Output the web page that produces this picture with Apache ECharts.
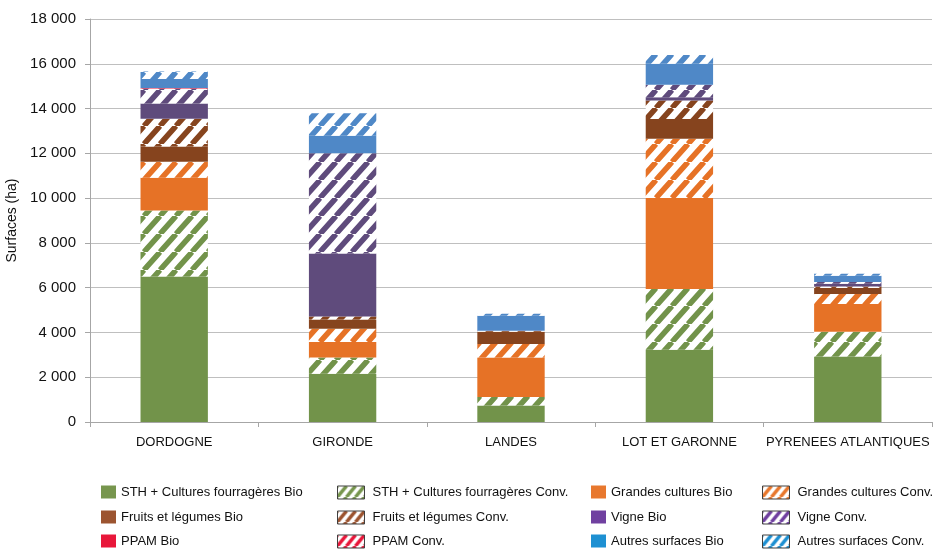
<!DOCTYPE html>
<html>
<head>
<meta charset="utf-8">
<script src="https://cdn.jsdelivr.net/npm/echarts@6/dist/echarts.min.js"></script>
<style>
html,body{margin:0;padding:0;background:#fff;}
#chart{width:934px;height:550px;}
</style>
</head>
<body>
<div id="chart"></div>
<script>
// ---- DATA ----
const categories = ['DORDOGNE', 'GIRONDE', 'LANDES', 'LOT ET GARONNE', 'PYRENEES ATLANTIQUES'];
const sthBio      = [6500, 2155, 740, 3230, 2930];
const sthConv     = [2950, 730, 375, 2710, 1100];
const gcBio       = [1460, 685, 1770, 4060, 1240];
const gcConv      = [715, 595, 600, 2650, 445];
const flBio       = [685, 415, 550, 880, 270];
const flConv      = [1235, 135, 30, 830, 70];
const vigneBio    = [685, 2810, 0, 150, 120];
const vigneConv   = [670, 4480, 0, 550, 75];
const ppamBio     = [15, 0, 0, 0, 0];
const ppamConv    = [0, 0, 15, 0, 0];
const autresBio   = [410, 775, 670, 940, 280];
const autresConv  = [330, 1015, 80, 390, 90];
const yTicks = { min: 0, max: 18000, interval: 2000 };

// ---- STYLE ----
const FONT = 'Liberation Sans';
function hatch(color, w, h, lw) {
  const c = document.createElement('canvas');
  c.width = w; c.height = h;
  const g = c.getContext('2d');
  g.fillStyle = '#ffffff';
  g.fillRect(0, 0, w, h);
  g.strokeStyle = color;
  g.lineWidth = lw;
  g.beginPath();
  for (let k = -1; k <= 1; k++) {
    g.moveTo(k * w, h);
    g.lineTo(k * w + w, 0);
  }
  g.stroke();
  return { image: c, repeat: 'repeat' };
}

const seriesDefs = [
  { name: 'STH + Cultures fourragères Bio', data: sthBio, color: '#72934A', legend: '#77964E', conv: false },
  { name: 'STH + Cultures fourragères Conv.', data: sthConv, color: '#72934A', legend: '#77964E', conv: true },
  { name: 'Grandes cultures Bio', data: gcBio, color: '#E67226', legend: '#E8782E', conv: false },
  { name: 'Grandes cultures Conv.', data: gcConv, color: '#E67226', legend: '#E8782E', conv: true },
  { name: 'Fruits et légumes Bio', data: flBio, color: '#86441E', legend: '#9C5430', conv: false },
  { name: 'Fruits et légumes Conv.', data: flConv, color: '#86441E', legend: '#9C5430', conv: true },
  { name: 'Vigne Bio', data: vigneBio, color: '#5F4B7C', legend: '#7040A0', conv: false },
  { name: 'Vigne Conv.', data: vigneConv, color: '#5F4B7C', legend: '#7040A0', conv: true },
  { name: 'PPAM Bio', data: ppamBio, color: '#E8173A', legend: '#E8173A', conv: false },
  { name: 'PPAM Conv.', data: ppamConv, color: '#E8173A', legend: '#E8173A', conv: true },
  { name: 'Autres surfaces Bio', data: autresBio, color: '#4F88C7', legend: '#1E90D2', conv: false },
  { name: 'Autres surfaces Conv.', data: autresConv, color: '#4F88C7', legend: '#1E90D2', conv: true }
];

const series = seriesDefs.map(d => ({
  name: d.name,
  type: 'bar',
  stack: 'total',
  barCategoryGap: '60%',
  data: d.data,
  itemStyle: { color: d.conv ? hatch(d.color, 16, 18, 5.5) : d.color },
  emphasis: { disabled: true },
  animation: false
}));

const colLeft = [101, 337, 591, 762];
const rowTop = [485.5, 510.5, 534.5];
const legends = seriesDefs.map((d, i) => {
  const col = i % 4, row = Math.floor(i / 4);
  return {
    left: colLeft[col],
    top: rowTop[row],
    itemWidth: d.conv ? 27 : 15,
    itemHeight: 13,
    icon: 'rect',
    selectedMode: false,
    padding: 0,
    textStyle: { fontFamily: FONT, fontSize: 13, color: '#111', padding: d.conv ? [0, 0, 0, 3] : 0 },
    data: [{
      name: d.name,
      itemStyle: d.conv
        ? { color: hatch(d.legend, 9, 11, 3.5), borderColor: '#404040', borderWidth: 1 }
        : { color: d.legend, borderWidth: 0 }
    }]
  };
});

const option = {
  animation: false,
  backgroundColor: '#ffffff',
  grid: { left: 90, right: 2, top: 19, bottom: 128, containLabel: false, outerBoundsMode: 'none' },
  legend: legends,
  xAxis: {
    type: 'category',
    data: categories,
    axisLine: { lineStyle: { color: '#A6A6A6', width: 1 } },
    axisTick: { show: true, interval: 0, length: 5, lineStyle: { color: '#A6A6A6' } },
    axisLabel: { interval: 0, fontFamily: FONT, fontSize: 13, color: '#111', margin: 14 }
  },
  yAxis: {
    type: 'value',
    min: yTicks.min,
    max: yTicks.max,
    interval: yTicks.interval,
    name: 'Surfaces (ha)',
    nameLocation: 'middle',
    nameGap: 58,
    nameTextStyle: { fontFamily: FONT, fontSize: 14, color: '#111' },
    axisLine: { show: true, lineStyle: { color: '#A6A6A6' } },
    axisTick: { show: true, length: 5, lineStyle: { color: '#A6A6A6' } },
    splitLine: { lineStyle: { color: '#BFBFBF' } },
    axisLabel: {
      fontFamily: FONT, fontSize: 15, color: '#111', margin: 14,
      formatter: v => String(v).replace(/\B(?=(\d{3})+(?!\d))/g, ' ')
    }
  },
  series: series
};

const chart = echarts.init(document.getElementById('chart'), null, { renderer: 'canvas' });
chart.setOption(option);
</script>
</body>
</html>
